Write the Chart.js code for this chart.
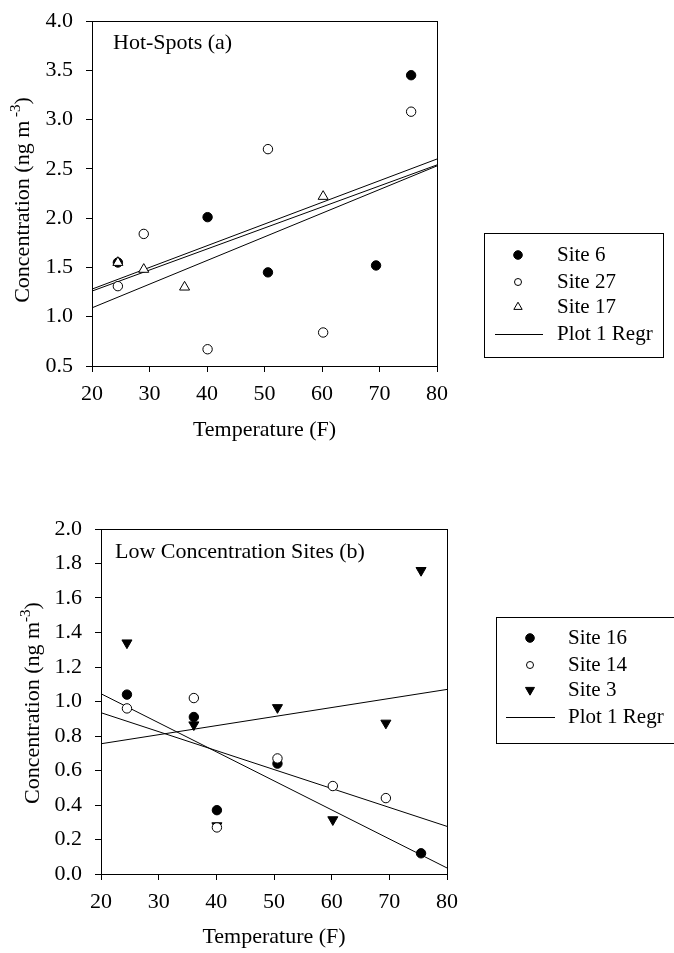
<!DOCTYPE html>
<html>
<head>
<meta charset="utf-8">
<title>Concentration vs Temperature</title>
<script src="https://cdn.jsdelivr.net/npm/chart.js"></script>
<style>
  html, body { margin: 0; padding: 0; background: #fff; }
  #wrap { position: relative; width: 674px; height: 953px; }
  canvas { position: absolute; left: 0; }
  #chartA { top: 0; }
  #chartB { top: 470px; }
</style>
</head>
<body>
<div id="wrap">
  <canvas id="chartA" width="674" height="470"></canvas>
  <canvas id="chartB" width="674" height="483"></canvas>
</div>
<script>
// ---- values ----
// (a) Hot-Spots
const site6Temp = [24.5, 40.1, 50.6, 69.4, 75.5];
const site6Conc = [1.55, 2.01, 1.45, 1.52, 3.45];
const site27Temp = [24.5, 29.0, 40.1, 50.6, 60.2, 75.5];
const site27Conc = [1.31, 1.84, 0.67, 2.70, 0.84, 3.08];
const site17Temp = [24.5, 29.0, 36.1, 60.2];
const site17Conc = [1.55, 1.48, 1.30, 2.22];

// regression line end points (at 20 and 80 F)
const regrX = [20, 80];
const regrSite6 = [1.28, 2.60];
const regrSite27 = [1.09, 2.53];
const regrSite17 = [1.26, 2.54];

// (b) Low Concentration Sites
const site16Temp = [24.5, 36.1, 40.1, 50.6, 75.5];
const site16Conc = [1.04, 0.91, 0.37, 0.64, 0.12];
const site14Temp = [24.5, 36.1, 40.1, 50.6, 60.2, 69.4];
const site14Conc = [0.96, 1.02, 0.27, 0.67, 0.51, 0.44];
const site3Temp = [24.5, 36.1, 40.1, 50.6, 60.2, 69.4, 75.5];
const site3Conc = [1.34, 0.865, 0.28, 0.965, 0.315, 0.875, 1.76];

const regrSite16 = [1.045, 0.035];
const regrSite14 = [0.935, 0.276];
const regrSite3 = [0.755, 1.07];

// tick labels
const xTicks = [20, 30, 40, 50, 60, 70, 80];
const yTicksA = [0.5, 1.0, 1.5, 2.0, 2.5, 3.0, 3.5, 4.0];
const yTicksB = [0.0, 0.2, 0.4, 0.6, 0.8, 1.0, 1.2, 1.4, 1.6, 1.8, 2.0];

const FONT = 'Liberation Serif, Times New Roman, serif';
const FS = 22;
Chart.defaults.font.family = FONT;
Chart.defaults.font.size = FS;
Chart.defaults.color = '#000';

const pts = (xs, ys) => xs.map((x, i) => ({ x: x, y: ys[i] }));

// marker styles
const filledDot = { pointStyle: 'circle', pointRadius: 4.7, backgroundColor: '#000', borderColor: '#000', legendR: 4.3 };
const openDot = { pointStyle: 'circle', pointRadius: 4.7, backgroundColor: '#fff', borderColor: '#000', legendR: 3.5 };
const openTri = { pointStyle: 'triangle', pointRadius: 5.8, backgroundColor: '#fff', borderColor: '#000', legendR: 4.8 };
const filledTriDown = { pointStyle: 'triangle', rotation: 180, pointRadius: 5.8, backgroundColor: '#000', borderColor: '#000', legendR: 5.2 };

function siteSet(label, xs, ys, style, order) {
  return Object.assign({
    label: label,
    legendLabel: label,
    data: pts(xs, ys),
    pointBorderWidth: 1,
    pointRotation: style.rotation || 0,
    pointBackgroundColor: style.backgroundColor,
    pointBorderColor: style.borderColor,
    showLine: false,
    order: order
  }, style);
}

function regrSet(ys, first) {
  return {
    label: 'Plot 1 Regr',
    legendLabel: first ? 'Plot 1 Regr' : null,
    data: pts(regrX, ys),
    showLine: true,
    borderColor: '#000',
    borderWidth: 1,
    pointRadius: 0,
    order: 10
  };
}

// draw a marker in the legend like the dataset's points
function drawMarker(ctx, d, x, y) {
  const r = d.legendR;
  ctx.save();
  ctx.translate(x, y);
  ctx.rotate((d.rotation || 0) * Math.PI / 180);
  ctx.beginPath();
  if (d.pointStyle === 'triangle') {
    for (let k = 0; k < 3; k++) {
      const a = k * 2 * Math.PI / 3;
      if (k === 0) ctx.moveTo(Math.sin(a) * r, -Math.cos(a) * r);
      else ctx.lineTo(Math.sin(a) * r, -Math.cos(a) * r);
    }
    ctx.closePath();
  } else {
    ctx.arc(0, 0, r, 0, Math.PI * 2);
  }
  ctx.fillStyle = d.backgroundColor;
  ctx.fill();
  ctx.strokeStyle = d.borderColor;
  ctx.lineWidth = 1;
  ctx.stroke();
  ctx.restore();
}

// frame, inner title, rotated y title and boxed legend
const decorPlugin = {
  id: 'decor',
  afterDraw(chart, args, opts) {
    const ctx = chart.ctx;
    const a = chart.chartArea;
    ctx.save();
    ctx.strokeStyle = '#000';
    ctx.lineWidth = 1;
    ctx.strokeRect(Math.round(a.left) + 0.5, Math.round(a.top) + 0.5,
      Math.round(a.right - a.left), Math.round(a.bottom - a.top));

    // title inside the plot
    ctx.fillStyle = '#000';
    ctx.font = FS + 'px ' + FONT;
    ctx.textBaseline = 'middle';
    ctx.textAlign = 'left';
    ctx.fillText(opts.title, opts.titleX, opts.titleY);

    // y axis title with superscript
    ctx.save();
    ctx.translate(opts.yTitleX, opts.yTitleY);
    ctx.rotate(-Math.PI / 2);
    const big = FS + 'px ' + FONT, small = '15px ' + FONT;
    ctx.font = big;
    const w1 = ctx.measureText(opts.yMain).width;
    const w3 = ctx.measureText(')').width;
    ctx.font = small;
    const w2 = ctx.measureText(opts.ySup).width;
    let x = -(w1 + w2 + w3) / 2;
    ctx.font = big;
    ctx.fillText(opts.yMain, x, 0);
    x += w1;
    ctx.font = small;
    ctx.fillText(opts.ySup, x, -7);
    x += w2;
    ctx.font = big;
    ctx.fillText(')', x, 0);
    ctx.restore();

    // legend
    const b = opts.box;
    ctx.strokeRect(b[0] + 0.5, b[1] + 0.5, b[2], b[3]);
    const items = chart.data.datasets.filter(d => d.legendLabel);
    items.forEach((d, i) => {
      const y = opts.rowY[i];
      if (d.showLine) {
        ctx.beginPath();
        ctx.moveTo(opts.lineX[0], y + 0.5);
        ctx.lineTo(opts.lineX[1], y + 0.5);
        ctx.stroke();
      } else {
        drawMarker(ctx, d, opts.markerX, y);
      }
      ctx.fillStyle = '#000';
      ctx.font = '21px ' + FONT;
      ctx.fillText(d.legendLabel, opts.textX, y);
    });
    ctx.restore();
  }
};

function makeChart(id, datasets, yMin, yMax, yTicks, yWidth, xHeight, padding, decor) {
  return new Chart(document.getElementById(id), {
    type: 'scatter',
    data: { datasets: datasets },
    options: {
      responsive: false,
      animation: false,
      layout: { padding: padding },
      plugins: {
        legend: { display: false },
        tooltip: { enabled: false },
        decor: decor
      },
      scales: {
        x: {
          type: 'linear',
          min: 20,
          max: 80,
          afterBuildTicks: s => { s.ticks = xTicks.map(v => ({ value: v })); },
          afterFit: s => { s.height = xHeight; },
          ticks: { padding: 9, font: { size: FS }, color: '#000' },
          grid: { drawOnChartArea: false, tickLength: 6, color: '#000', tickColor: '#000' },
          border: { color: '#000', width: 1 },
          title: { display: true, text: 'Temperature (F)', font: { size: FS }, color: '#000', padding: { top: 0, bottom: 3 } }
        },
        y: {
          type: 'linear',
          min: yMin,
          max: yMax,
          afterBuildTicks: s => { s.ticks = yTicks.map(v => ({ value: v })); },
          afterFit: s => { s.width = yWidth; s.paddingTop = 0; s.paddingBottom = 0; },
          ticks: { padding: 13, font: { size: FS }, color: '#000', callback: v => v.toFixed(1) },
          grid: { drawOnChartArea: false, tickLength: 6, color: '#000', tickColor: '#000' },
          border: { color: '#000', width: 1 }
        }
      }
    },
    plugins: [decorPlugin]
  });
}

makeChart('chartA', [
  siteSet('Site 6', site6Temp, site6Conc, filledDot, 3),
  siteSet('Site 27', site27Temp, site27Conc, openDot, 2),
  siteSet('Site 17', site17Temp, site17Conc, openTri, 1),
  regrSet(regrSite6, true),
  regrSet(regrSite27, false),
  regrSet(regrSite17, false)
], 0.5, 4.0, yTicksA, 92, 80, { left: 0, top: 21, right: 237, bottom: 24 }, {
  title: 'Hot-Spots (a)', titleX: 113, titleY: 43,
  yMain: 'Concentration (ng m', ySup: ' -3', yTitleX: 23, yTitleY: 200,
  box: [484, 233, 179, 124],
  rowY: [255, 282, 307, 334],
  markerX: 518, lineX: [495, 543], textX: 557
});

makeChart('chartB', [
  siteSet('Site 16', site16Temp, site16Conc, filledDot, 3),
  siteSet('Site 14', site14Temp, site14Conc, openDot, 1),
  siteSet('Site 3', site3Temp, site3Conc, filledTriDown, 2),
  regrSet(regrSite16, true),
  regrSet(regrSite14, false),
  regrSet(regrSite3, false)
], 0.0, 2.0, yTicksB, 101, 79, { left: 0, top: 59, right: 227, bottom: 0 }, {
  title: 'Low Concentration Sites (b)', titleX: 115, titleY: 82,
  yMain: 'Concentration (ng m', ySup: '-3', yTitleX: 33, yTitleY: 233,
  box: [496, 147, 200, 126],
  rowY: [168, 195, 220, 247],
  markerX: 530, lineX: [506, 555], textX: 568
});
</script>
</body>
</html>
